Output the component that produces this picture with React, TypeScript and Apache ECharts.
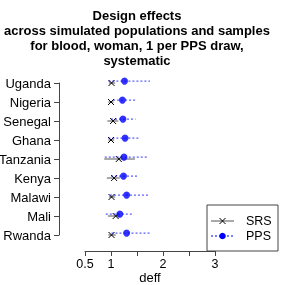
import React, { useEffect, useRef } from "react";
import * as echarts from "echarts";

const countries = ["Uganda", "Nigeria", "Senegal", "Ghana", "Tanzania", "Kenya", "Malawi", "Mali", "Rwanda"];
const srsMid = [1.01, 1.0, 1.04, 1.0, 1.15, 1.06, 1.01, 1.09, 1.01];
const srsLow = [0.96, 0.95, 0.93, 0.95, 0.87, 0.92, 0.96, 0.94, 0.95];
const srsHigh = [1.08, 1.05, 1.14, 1.06, 1.46, 1.17, 1.08, 1.17, 1.09];
const ppsMid = [1.26, 1.22, 1.23, 1.27, 1.25, 1.24, 1.3, 1.17, 1.3];
const ppsLow = [0.95, 1.04, 1.0, 0.95, 0.88, 1.0, 0.98, 0.9, 1.01];
const ppsHigh = [1.75, 1.49, 1.47, 1.53, 1.72, 1.53, 1.75, 1.43, 1.75];
const xTicks = [0.5, 1, 1.5, 2, 2.5, 3];
const xShown = ["0.5", "1", "2", "3"];
const titleText = "Design effects\nacross simulated populations and samples\nfor blood, woman, 1 per PPS draw,\nsystematic";

const FONT = "'Liberation Sans', Arial, Helvetica, sans-serif";

export default function App() {
  const ref = useRef<HTMLDivElement>(null);
  useEffect(() => {
    if (!ref.current) return;
    const chart = echarts.init(ref.current, undefined, { renderer: "svg" });
    const srsData = countries.map((_, i) => [srsLow[i], srsHigh[i], srsMid[i], i + 1]);
    const ppsRange = countries.map((_, i) => [ppsLow[i], ppsHigh[i], ppsMid[i], i + 1 - 0.1]);
    const ppsPts = countries.map((_, i) => [ppsMid[i], i + 1 - 0.1]);
    chart.setOption({
      animation: false,
      grid: { left: 85, right: 70, top: 83, bottom: 50, containLabel: false, outerBoundsMode: "none" },
      xAxis: {
        type: "value",
        min: 0.5,
        max: 3,
        interval: 0.5,
        offset: 16,
        splitLine: { show: false },
        axisLine: { show: true, lineStyle: { color: "#444", width: 1 } },
        axisTick: { show: true, length: 5, lineStyle: { color: "#444" } },
        axisLabel: {
          margin: 6,
          fontFamily: FONT,
          fontSize: 12.5,
          color: "#000",
          showMinLabel: true,
          showMaxLabel: true,
          formatter: (v: number) => {
            const s = String(v);
            return xShown.includes(s) && xTicks.includes(v) ? s : "";
          },
        },
        name: "deff",
        nameLocation: "middle",
        nameGap: 20,
        nameMoveOverlap: false,
        nameTextStyle: { fontFamily: FONT, fontSize: 13, color: "#000" },
      },
      yAxis: {
        type: "value",
        min: 1,
        max: 9,
        interval: 1,
        inverse: true,
        offset: 26,
        splitLine: { show: false },
        axisLine: { show: true, lineStyle: { color: "#444", width: 1 } },
        axisTick: { show: true, length: 5, lineStyle: { color: "#444" } },
        axisLabel: {
          margin: 8,
          fontFamily: FONT,
          fontSize: 13,
          color: "#000",
          showMinLabel: true,
          showMaxLabel: true,
          formatter: (v: number) => countries[Math.round(v) - 1] || "",
        },
      },
      graphic: [
        {
          type: "text",
          x: 137,
          y: 8,
          style: {
            text: titleText,
            font: `bold 13px ${FONT}`,
            fill: "#000",
            textAlign: "center",
            lineHeight: 15,
          },
        },
        { type: "rect", shape: { x: 207, y: 205, width: 71, height: 46 }, style: { fill: "#fff", stroke: "#444", lineWidth: 1 } },
        { type: "line", shape: { x1: 211, y1: 221, x2: 234, y2: 221 }, style: { stroke: "#555", lineWidth: 1 } },
        { type: "line", shape: { x1: 219.5, y1: 218, x2: 225.5, y2: 224 }, style: { stroke: "#000", lineWidth: 1 } },
        { type: "line", shape: { x1: 219.5, y1: 224, x2: 225.5, y2: 218 }, style: { stroke: "#000", lineWidth: 1 } },
        { type: "line", shape: { x1: 211, y1: 236, x2: 234, y2: 236 }, style: { stroke: "#0000ff", lineWidth: 1, lineDash: [2, 2] } },
        { type: "circle", shape: { cx: 222.5, cy: 236, r: 3.3 }, style: { fill: "#0000ff" } },
        { type: "text", x: 246, y: 221, style: { text: "SRS", font: `12.5px ${FONT}`, fill: "#000", textVerticalAlign: "middle" } },
        { type: "text", x: 246, y: 236, style: { text: "PPS", font: `12.5px ${FONT}`, fill: "#000", textVerticalAlign: "middle" } },
      ],
      series: [
        {
          type: "custom",
          name: "SRS",
          clip: false,
          data: srsData,
          renderItem: (params: any, api: any) => {
            const y = api.value(3);
            const a = api.coord([api.value(0), y]);
            const b = api.coord([api.value(1), y]);
            const m = api.coord([api.value(2), y]);
            const h = 3;
            return {
              type: "group",
              children: [
                { type: "line", shape: { x1: a[0], y1: a[1], x2: b[0], y2: b[1] }, style: { stroke: "#555", lineWidth: 1 } },
                { type: "line", shape: { x1: m[0] - h, y1: m[1] - h, x2: m[0] + h, y2: m[1] + h }, style: { stroke: "#000", lineWidth: 1 } },
                { type: "line", shape: { x1: m[0] - h, y1: m[1] + h, x2: m[0] + h, y2: m[1] - h }, style: { stroke: "#000", lineWidth: 1 } },
              ],
            };
          },
        },
        {
          type: "custom",
          name: "PPS range",
          clip: false,
          data: ppsRange,
          renderItem: (params: any, api: any) => {
            const y = api.value(3);
            const a = api.coord([api.value(0), y]);
            const b = api.coord([api.value(1), y]);
            return {
              type: "line",
              shape: { x1: a[0], y1: a[1], x2: b[0], y2: b[1] },
              style: { stroke: "#0000ff", lineWidth: 1, lineDash: [2, 2], opacity: 0.8 },
            };
          },
        },
        {
          type: "scatter",
          name: "PPS",
          clip: false,
          data: ppsPts,
          symbol: "circle",
          symbolSize: 7,
          itemStyle: { color: "#0000ff" },
        },
      ],
    });
    return () => chart.dispose();
  }, []);
  return <div ref={ref} style={{ position: "fixed", left: 0, top: 0, width: 285, height: 285 }} />;
}
